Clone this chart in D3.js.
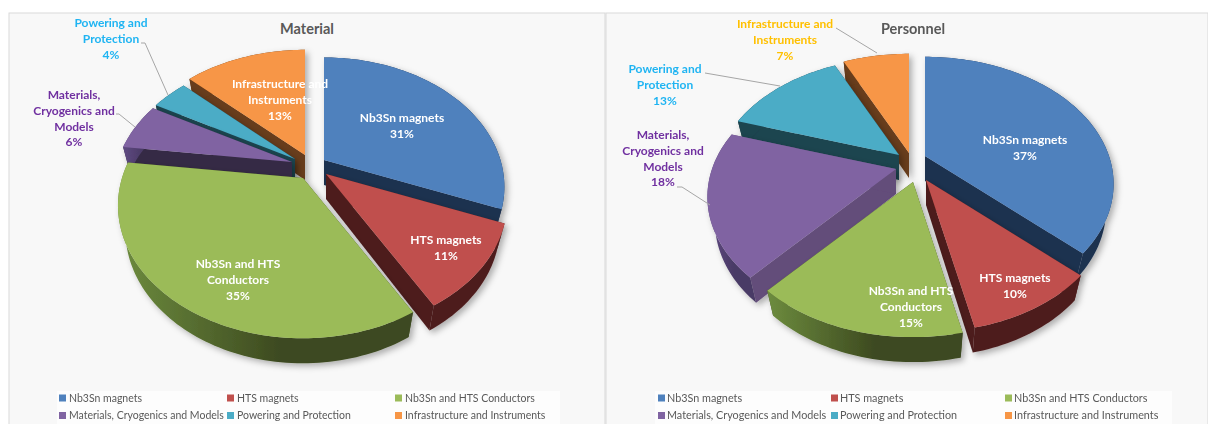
<!DOCTYPE html>
<html><head><meta charset="utf-8">
<script src="https://cdn.jsdelivr.net/npm/d3@7"></script>
<style>html,body{margin:0;padding:0;background:#fff;overflow:hidden}svg{display:block;filter:blur(.45px)}</style>
</head><body><div id="c"></div>
<script>
// ---- data ----
const categories = ["Nb3Sn magnets","HTS magnets","Nb3Sn and HTS Conductors","Materials, Cryogenics and Models","Powering and Protection","Infrastructure and Instruments"];
const materialValues = [31,10.7,35.3,6,4,13];
const personnelValues = [37,9.6,14.9,18.4,13.1,7];
const topColors = ["#4f81bd","#c0504d","#9bbb59","#8064a2","#4bacc6","#f79646"];
const labelLinesText = [["Nb3Sn magnets"],["HTS magnets"],["Nb3Sn and HTS","Conductors"],["Materials,","Cryogenics and","Models"],["Powering and","Protection"],["Infrastructure and","Instruments"]];

// ---- chart settings ----
const W=1208,H=424;
const DEPTH=25,BOTTOM_SX=0.96;
const rimColors=["#1c3150","#4e1e1e",["#6d8c3e","#3d4a20"],["#5f4a82","#4a3a66"],"#1e444f","#683c1a"];
const charts=[
 {title:"Material",titleX:307,values:materialValues,panel:[9,605],legendBox:[57,560],cx:308,cy:165,rx:181,ry:127,tilt:0.2075,
  explode:[[16,-5],[18,9],[-5,13],[-16,-3],[-13,-6],[-3,-10]],
  sizes:[.975,.98,1,.965,.965,1],
  walls:["#1c3150","#4e1e1e","#3d4a20","#352a45","#1e444f","#683c1a"],
  legendX:[59,227,395],legendFont:10.5,legendGap:10,
  labels:[{x:402,y:118,c:"#fff"},{x:446,y:240,c:"#fff"},{x:238,y:264,c:"#fff"},{x:74,y:95,c:"#7030a0"},{x:111,y:23,c:"#1fb4f2"},{x:280,y:84,c:"#fff"}],
  leaders:[null,null,null,[[116,114],[119,114],[135,127]],[[141,43],[145,43],[168,95]],null]},
 {title:"Personnel",titleX:913,values:personnelValues,panel:[606,1208],legendBox:[655,1172],cx:908,cy:165,rx:184,ry:121,tilt:0.22,
  explode:[[17,-9],[18,15],[5,17],[-12,4],[-9,-10],[1,-12]],
  sizes:[1,.98,1,1,.98,1],
  walls:["#1c3150","#4e1e1e","#3d4a20","#634d7a","#1e444f","#683c1a"],
  legendX:[658,831,1005],legendFont:10.8,legendGap:9,
  labels:[{x:1025,y:140,c:"#fff"},{x:1015,y:278,c:"#fff"},{x:911,y:291,c:"#fff"},{x:663,y:135,c:"#7030a0"},{x:665,y:69,c:"#1fb4f2"},{x:785,y:24,c:"#ffc000"}],
  leaders:[null,null,null,[[677,187],[682,187],[710,205]],[[705,73],[780,86]],[[836,28],[877,53]]]}
];

const color=d3.scaleOrdinal(categories,topColors);
const svg=d3.select("#c").append("svg").attr("width",W).attr("height",H).attr("viewBox",[0,0,W,H])
  .style("font-family","Lato, 'Open Sans', sans-serif");
const defs=svg.append("defs");
const f=defs.append("filter").attr("id","sh").attr("x","-20%").attr("y","-20%").attr("width","140%").attr("height","140%");
f.append("feDropShadow").attr("dx",3).attr("dy",3).attr("stdDeviation",3).attr("flood-color","#000").attr("flood-opacity",.3);
rimColors.forEach((c,i)=>{ if(Array.isArray(c)){
  const g=defs.append("linearGradient").attr("id","rim"+i);
  g.append("stop").attr("offset","0%").attr("stop-color",c[0]);
  g.append("stop").attr("offset","55%").attr("stop-color",c[1]);
  g.append("stop").attr("offset","100%").attr("stop-color",c[1]);
}});

const pieGen=d3.pie().sort(null).value(d=>d);
const lineGen=d3.line().curve(d3.curveLinear);

function project(a,ch,size){
  const u=Math.sin(a),v=-Math.cos(a),den=1-ch.tilt*v;
  return [size*ch.rx*u/den,size*ch.ry*v/den];
}

charts.forEach(ch=>{
  const gc=svg.append("g");
  gc.append("rect").attr("x",ch.panel[0]).attr("y",13).attr("width",ch.panel[1]-ch.panel[0]).attr("height",H).attr("fill","#f8f8f8").attr("stroke","#d9d9d9");
  gc.append("rect").attr("x",ch.legendBox[0]).attr("y",391).attr("width",ch.legendBox[1]-ch.legendBox[0]).attr("height",H-391).attr("fill","#fdfdfd");
  gc.append("text").attr("x",ch.titleX).attr("y",34).attr("text-anchor","middle").attr("font-size",14.5).attr("font-weight",700).attr("fill","#595959").text(ch.title);

  const arcs=pieGen(ch.values).map((d,i)=>({...d,i,mid:(d.startAngle+d.endAngle)/2}));
  const order=arcs.slice().sort((a,b)=>(-Math.cos(a.mid))-(-Math.cos(b.mid)));
  order.forEach(d=>{
    const ax=ch.cx+ch.explode[d.i][0],ay=ch.cy+ch.explode[d.i][1];
    const n=Math.max(8,Math.ceil((d.endAngle-d.startAngle)*40));
    const angles=d3.range(n+1).map(k=>d.startAngle+(d.endAngle-d.startAngle)*k/n);
    const top=angles.map(a=>{const p=project(a,ch,ch.sizes[d.i]);return [ax+p[0],ay+p[1]];});
    const bot=angles.map(a=>{const p=project(a,ch,ch.sizes[d.i]);return [ax+p[0]*BOTTOM_SX,ay+p[1]+DEPTH];});
    const g=gc.append("g").attr("filter","url(#sh)");
    const apexB=[ax,ay+DEPTH],apexT=[ax,ay];
    const wall=ch.walls[d.i];
    [[apexT,top[0],bot[0],apexB],[apexT,top[n],bot[n],apexB]].forEach(q=>{
      g.append("path").attr("d",lineGen(q)+"Z").attr("fill",wall);
    });
    const rc=rimColors[d.i];
    g.append("path").attr("d",lineGen(top.concat(bot.slice().reverse()))+"Z")
      .attr("fill",Array.isArray(rc)?`url(#rim${d.i})`:rc);
    g.append("path").attr("d",lineGen([apexT,...top])+"Z").attr("fill",color(categories[d.i]));
  });

  ch.leaders.forEach(l=>{ if(l) gc.append("path").attr("d",lineGen(l)).attr("fill","none").attr("stroke","#a6a6a6").attr("stroke-width",1); });

  ch.labels.forEach((lab,i)=>{
    const lines=labelLinesText[i].concat([Math.round(ch.values[i])+"%"]);
    const t=gc.append("text").attr("text-anchor","middle").attr("font-size",12).attr("font-weight",700).attr("fill",lab.c);
    lines.forEach((s,k)=>t.append("tspan").attr("x",lab.x).attr("y",lab.y+4+k*15.8).text(s));
  });

  categories.forEach((c,i)=>{
    const col=i%3,row=Math.floor(i/3);
    const x=ch.legendX[col],y=398+row*17.5;
    gc.append("rect").attr("x",x).attr("y",y-3.5).attr("width",7).attr("height",7).attr("fill",color(c));
    gc.append("text").attr("x",x+ch.legendGap).attr("y",y+3.6).attr("font-size",ch.legendFont).attr("fill","#595959").text(c);
  });
});
</script></body></html>
